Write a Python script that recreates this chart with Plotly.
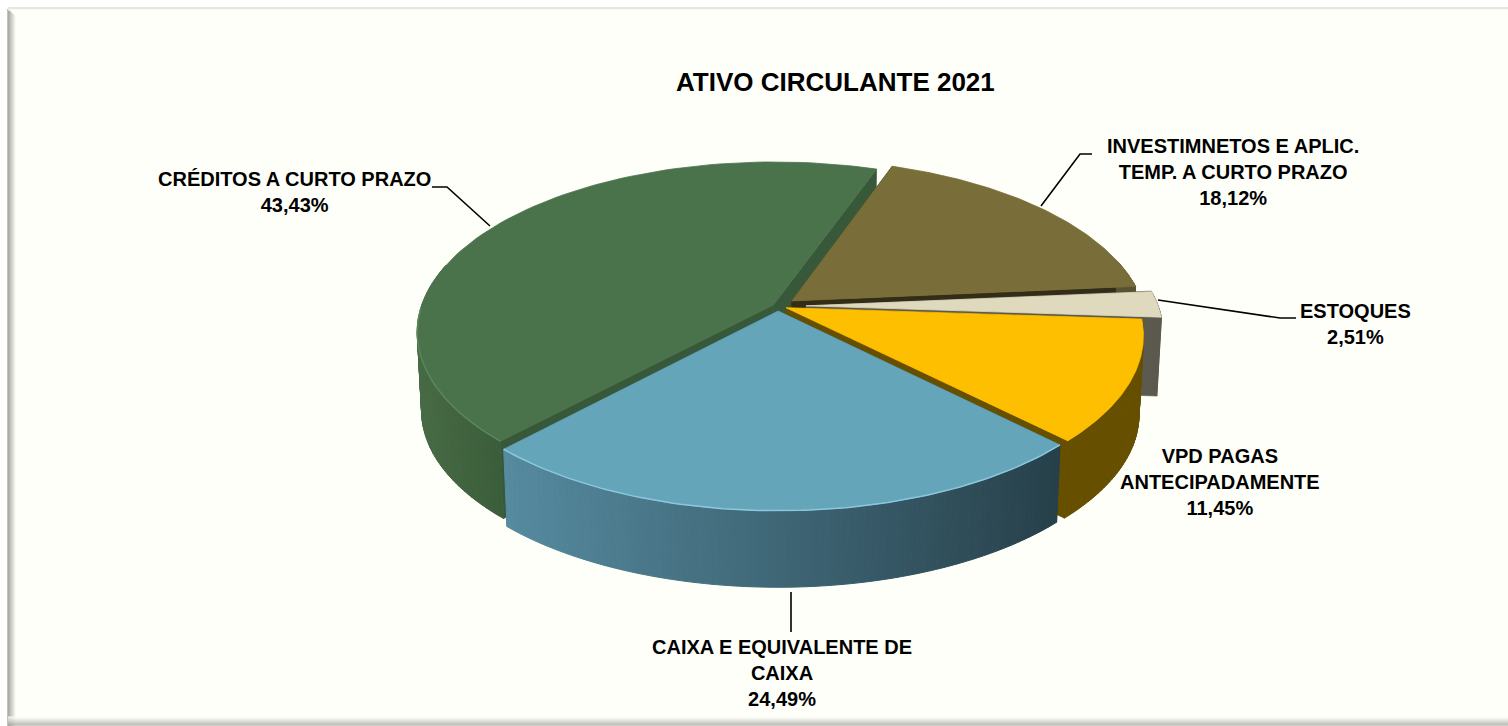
import numpy as np
import plotly.graph_objects as go

categories = ["INVESTIMNETOS E APLIC.<br>TEMP. A CURTO PRAZO", "ESTOQUES", "VPD PAGAS<br>ANTECIPADAMENTE",
              "CAIXA E EQUIVALENTE DE<br>CAIXA", "CRÉDITOS A CURTO PRAZO"]
values = [18.12, 2.51, 11.45, 24.49, 43.43]
title_text = "ATIVO CIRCULANTE 2021"

# styling per slice
pulls = [0.05, 0.08, 0.025, 0.03, 0.015]
top_colors = ["#796E39", "#DFD9BE", "#FDBF00", "#65A5BA", "#4A724B"]
cut_colors = ["#332D17", "#5C5A4E", "#674F00", "#2A434D", "#38583A"]
wall_from = ["#5A5230", "#5C5A4E", "#674F00", "#568BA0", "#476B45"]
wall_to = ["#5A5230", "#5C5A4E", "#674F00", "#27404A", "#3A5C39"]
rim_colors = [None, None, None, "#8CC8DC", "#5A875A"]
draw_order = [4, 0, 1, 2, 3]
START = 19.6
CX, CY, A, B, P, H, LEAN = 778.0, 306.0, 352.0, 166.0, 0.16, 79.0, 0.012


def project(du, dv, z=0.0):
    w = 1 / (1 + P * dv)
    shrink = 1 - LEAN * z
    return CX + A * du * w * shrink, CY - B * dv * w * shrink + H * z


def hexrgb(c):
    return np.array([int(c[i:i + 2], 16) for i in (1, 3, 5)], float)


def mix(c1, c2, t):
    r = hexrgb(c1) * (1 - t) + hexrgb(c2) * t
    return "rgb(%d,%d,%d)" % tuple(r)


fig = go.Figure()


def poly(xs, ys, color, lw=0.6):
    fig.add_trace(go.Scatter(x=xs, y=ys, mode="lines", fill="toself", fillcolor=color,
                             line=dict(color=color, width=lw), hoverinfo="skip", showlegend=False))


total = sum(values)
spans = np.array(values) / total * 360
starts = START + np.concatenate([[0], np.cumsum(spans)[:-1]])

for i in draw_order:
    t0, t1 = np.radians(starts[i]), np.radians(starts[i] + spans[i])
    mid = (t0 + t1) / 2
    ou, ov = pulls[i] * np.sin(mid), pulls[i] * np.cos(mid)

    def rim(t, z=0.0):
        return project(ou + np.sin(t), ov + np.cos(t), z)

    # cut faces
    for t in (t0, t1):
        x1, y1 = project(ou, ov, 0)
        x2, y2 = rim(t, 0)
        x3, y3 = rim(t, 1)
        x4, y4 = project(ou, ov, 1)
        poly([x1, x2, x3, x4, x1], [y1, y2, y3, y4, y1], cut_colors[i])
    # outer wall, segmented for the shading; only the part that faces the viewer
    vis_t = np.linspace(t0, t1, 400)
    vis_t = vis_t[np.cos(vis_t) < 0.25]
    if vis_t.size > 2:
        n = max(int(np.degrees(vis_t[-1] - vis_t[0]) / 1.0), 2)
        edges = np.linspace(vis_t[0], vis_t[-1], n + 1)
        order = np.argsort(-np.cos((edges[:-1] + edges[1:]) / 2))
        xmin, xmax = CX - A, CX + 0.85 * A
        if i == 3:
            xmin, xmax = 507, 1065
        if i == 4:
            xmin, xmax = 420, 512
        for k in order:
            xa, ya = rim(edges[k], 0)
            xb, yb = rim(edges[k + 1], 0)
            xc, yc = rim(edges[k + 1], 1)
            xd, yd = rim(edges[k], 1)
            f = float(np.clip(((xa + xb) / 2 - xmin) / (xmax - xmin), 0, 1))
            poly([xa, xb, xc, xd, xa], [ya, yb, yc, yd, ya], mix(wall_from[i], wall_to[i], f), 1.0)
    # top surface
    ts = np.linspace(t0, t1, 90)
    rx, ry = rim(ts)
    x0, y0 = project(ou, ov)
    poly(np.r_[x0, rx, x0], np.r_[y0, ry, y0], top_colors[i], 0.8)
    if rim_colors[i]:
        sel = np.cos(ts) < 0
        fig.add_trace(go.Scatter(x=rx[sel], y=ry[sel], mode="lines", line=dict(color=rim_colors[i], width=1.5),
                                 hoverinfo="skip", showlegend=False))

# frame / bevel
shapes = [dict(type="rect", x0=8, y0=9, x1=1508, y1=726, line_width=0, fillcolor="#FFFFF9", layer="below")]
for j in range(9):
    col = mix("#85857F", "#FFFFF9", j / 8)
    shapes.append(dict(type="line", x0=8 + j, x1=8 + j, y0=9 + j, y1=726, line=dict(color=col, width=1), layer="below"))
for j in range(3):
    shapes.append(dict(type="line", x0=8, x1=1508, y0=8 + j, y1=8 + j,
                       line=dict(color=mix("#CFCFC4", "#FFFFF9", j / 2), width=1), layer="below"))
for j in range(9):
    shapes.append(dict(type="line", x0=8, x1=1508, y0=725 - j, y1=725 - j,
                       line=dict(color=mix("#A5A59F", "#FFFFF9", j / 8), width=1), layer="below"))

# leader lines
leaders = [[(490, 226), (447, 187), (432, 187)], [(1041, 206), (1080, 154), (1092, 154)],
           [(1158, 300), (1280, 318), (1296, 318)], [(791, 592), (791, 632)]]
for pts in leaders:
    d = "M " + " L ".join(f"{a},{b}" for a, b in pts)
    shapes.append(dict(type="path", path=d, line=dict(color="#000000", width=1.6)))

FONT = "Liberation Sans, Arial, sans-serif"
label_pos = [(1233, 172), (1355, 324), (1220, 482), (782, 673), (294, 192)]
anns = [dict(x=835, y=82, text=f"<b>{title_text}</b>", showarrow=False, xref="x", yref="y",
             font=dict(family=FONT, size=26, color="#000000"))]
for c, v, (x, y) in zip(categories, values, label_pos):
    txt = c + "<br>" + f"{v:.2f}".replace(".", ",") + "%"
    anns.append(dict(x=x, y=y, text=f"<b>{txt}</b>", showarrow=False, align="center", xref="x", yref="y",
                     font=dict(family=FONT, size=20, color="#000000")))

fig.update_layout(width=1508, height=726, margin=dict(l=0, r=0, t=0, b=0), showlegend=False,
                  paper_bgcolor="#FFFFFF", plot_bgcolor="rgba(0,0,0,0)", shapes=shapes, annotations=anns,
                  xaxis=dict(range=[0, 1508], visible=False, fixedrange=True),
                  yaxis=dict(range=[726, 0], visible=False, fixedrange=True))
fig.write_html("out.html", config=dict(displayModeBar=False, responsive=False),
               post_script="document.body.style.margin='0';document.body.style.overflow='hidden';")
